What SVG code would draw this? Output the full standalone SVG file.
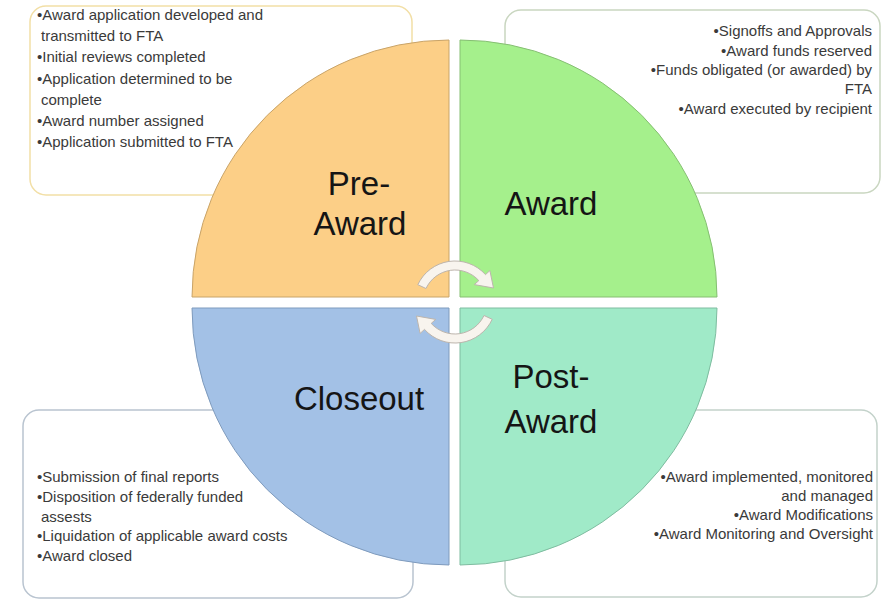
<svg xmlns="http://www.w3.org/2000/svg" width="881" height="599" viewBox="0 0 881 599">
<style>
.box{fill:#ffffff;stroke-width:1.5}
.t{font-family:"Liberation Sans",Arial,sans-serif;font-size:15px;fill:#3a3a3a}
.r{text-anchor:end}
.big{font-family:"Liberation Sans",Arial,sans-serif;font-size:33px;fill:#151515;text-anchor:middle}
.arrow{fill:#f8f4ee;stroke:#bdb5ad;stroke-width:1}
</style>
<defs>
<path id="arc" d="M417.8,284.7 A41,41 0 0 1 485.5,274.6 L489.9,270.6 L493.5,288 L474.3,284.6 L478.8,280.6 A32,32 0 0 0 426,288.5 Z"/>
</defs>
<rect width="881" height="599" fill="#ffffff"/>
<g id="box-preaward">
<rect class="box" x="30" y="6" width="382" height="189" rx="16" stroke="#f2dfa6"/>
<text class="t" x="37" y="20">•Award application developed and</text>
<text class="t" x="41" y="41">transmitted to FTA</text>
<text class="t" x="37" y="62">•Initial reviews completed</text>
<text class="t" x="37" y="84">•Application determined to be</text>
<text class="t" x="41" y="105">complete</text>
<text class="t" x="37" y="126">•Award number assigned</text>
<text class="t" x="37" y="147">•Application submitted to FTA</text>
</g>
<g id="box-award">
<rect class="box" x="505" y="10" width="375" height="183" rx="16" stroke="#c9d6c0"/>
<text class="t r" x="872" y="36">•Signoffs and Approvals</text>
<text class="t r" x="872" y="56">•Award funds reserved</text>
<text class="t r" x="872" y="75">•Funds obligated (or awarded) by</text>
<text class="t r" x="872" y="94">FTA</text>
<text class="t r" x="872" y="114">•Award executed by recipient</text>
</g>
<g id="box-closeout">
<rect class="box" x="23" y="410" width="390" height="188" rx="16" stroke="#b9c4d0"/>
<text class="t" x="37" y="482">•Submission of final reports</text>
<text class="t" x="37" y="502">•Disposition of federally funded</text>
<text class="t" x="41" y="522">assests</text>
<text class="t" x="37" y="541">•Liquidation of applicable award costs</text>
<text class="t" x="37" y="561">•Award closed</text>
</g>
<g id="box-postaward">
<rect class="box" x="505" y="410" width="372" height="187" rx="16" stroke="#c3d2ca"/>
<text class="t r" x="873" y="482">•Award implemented, monitored</text>
<text class="t r" x="873" y="501">and managed</text>
<text class="t r" x="873" y="520">•Award Modifications</text>
<text class="t r" x="873" y="539">•Award Monitoring and Oversight</text>
</g>
<g id="preaward">
<path d="M449,297 L192,297 A257,257 0 0 1 449,40 Z" fill="#fccf87" stroke="#c9a469" stroke-width="1"/>
<text class="big" x="359" y="195">Pre-</text>
<text class="big" x="360" y="235">Award</text>
</g>
<g id="award">
<path d="M460,297 L460,40 A257,257 0 0 1 717,297 Z" fill="#a5f08c" stroke="#86bf73" stroke-width="1"/>
<text class="big" x="551" y="215">Award</text>
</g>
<g id="closeout">
<path d="M449,308 L449,565 A257,257 0 0 1 192,308 Z" fill="#a3c1e6" stroke="#7f9bbd" stroke-width="1"/>
<text class="big" x="359" y="410">Closeout</text>
</g>
<g id="postaward">
<path d="M460,308 L717,308 A257,257 0 0 1 460,565 Z" fill="#a0eac8" stroke="#7fbca0" stroke-width="1"/>
<text class="big" x="551" y="388">Post-</text>
<text class="big" x="551" y="433">Award</text>
</g>
<g id="connectors">
<use href="#arc" class="arrow"/>
<use href="#arc" class="arrow" transform="rotate(180 455 302)"/>
</g>
</svg>
